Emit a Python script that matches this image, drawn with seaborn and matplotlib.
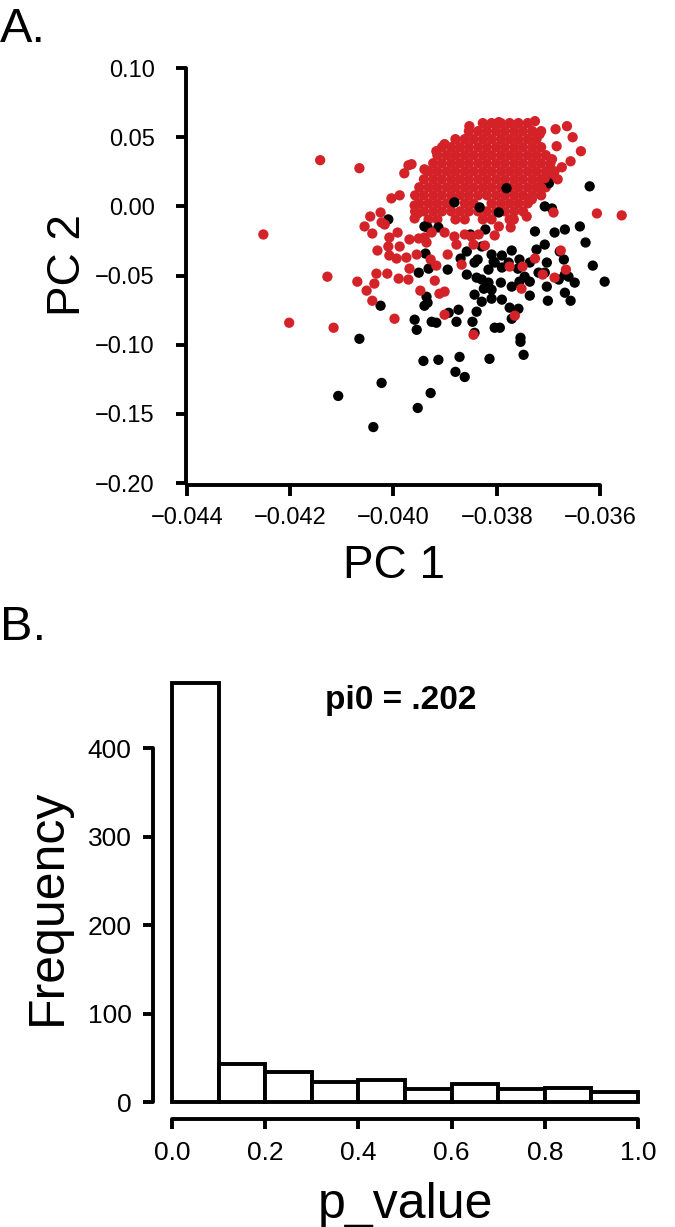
import matplotlib
matplotlib.use("Agg")
import matplotlib.pyplot as plt
import matplotlib.ticker as mticker
import seaborn as sns
import pandas as pd

# ---------------- data ----------------
# Panel A: PCA scores.
# Dense red core, grouped by PC2 value -> list of PC1 values
red_core_rows = {
    0.0602: [-0.03827, -0.03810, -0.03792, -0.03775, -0.03758, -0.03740],
    0.0544: [-0.03854, -0.03836, -0.03819, -0.03801, -0.03784, -0.03766, -0.03749, -0.03731, -0.03714],
    0.0486: [-0.03880, -0.03862, -0.03845, -0.03827, -0.03810, -0.03792, -0.03775, -0.03758, -0.03740, -0.03723],
    0.0428: [-0.03906, -0.03888, -0.03871, -0.03854, -0.03836, -0.03819, -0.03801, -0.03784, -0.03766, -0.03749,
             -0.03731, -0.03714],
    0.0370: [-0.03915, -0.03897, -0.03880, -0.03862, -0.03845, -0.03827, -0.03810, -0.03792, -0.03775, -0.03758,
             -0.03740, -0.03723, -0.03705],
    0.0312: [-0.03923, -0.03906, -0.03888, -0.03871, -0.03854, -0.03836, -0.03819, -0.03801, -0.03784, -0.03766,
             -0.03749, -0.03731, -0.03714, -0.03696],
    0.0254: [-0.03932, -0.03915, -0.03897, -0.03880, -0.03862, -0.03845, -0.03827, -0.03810, -0.03792, -0.03775,
             -0.03758, -0.03740, -0.03723, -0.03705, -0.03688],
    0.0196: [-0.03941, -0.03923, -0.03906, -0.03888, -0.03871, -0.03854, -0.03836, -0.03819, -0.03801, -0.03784,
             -0.03766, -0.03749, -0.03731, -0.03714, -0.03696],
    0.0138: [-0.03950, -0.03932, -0.03915, -0.03897, -0.03880, -0.03862, -0.03845, -0.03827, -0.03810, -0.03792,
             -0.03775, -0.03758, -0.03740, -0.03723, -0.03705],
    0.0080: [-0.03958, -0.03941, -0.03923, -0.03906, -0.03888, -0.03871, -0.03854, -0.03836, -0.03819, -0.03801,
             -0.03784, -0.03766, -0.03749, -0.03731, -0.03714],
    0.0022: [-0.03950, -0.03932, -0.03915, -0.03897, -0.03862, -0.03845, -0.03810, -0.03792, -0.03775, -0.03758,
             -0.03740],
    -0.0036: [-0.03958, -0.03941, -0.03923, -0.03906, -0.03888, -0.03871, -0.03854, -0.03836, -0.03819, -0.03801,
              -0.03784, -0.03766, -0.03749],
    -0.0094: [-0.03932, -0.03915, -0.03880, -0.03862, -0.03827, -0.03810, -0.03775],
}

black_pts = [
    (-0.04066, -0.0957), (-0.04023, -0.1276), (-0.04107, -0.1370), (-0.04039, -0.1595), (-0.03953, -0.1457),
    (-0.03928, -0.1349), (-0.03942, -0.1117), (-0.03913, -0.1109), (-0.03872, -0.1088), (-0.03814, -0.1102),
    (-0.03880, -0.1196), (-0.03862, -0.1233), (-0.03754, -0.0979), (-0.03748, -0.1073), (-0.04010, -0.0094),
    (-0.04025, -0.0718), (-0.03959, -0.0819), (-0.03955, -0.0892), (-0.03926, -0.0834), (-0.03917, -0.0841),
    (-0.03940, -0.0718), (-0.03936, -0.0653), (-0.03951, -0.0479), (-0.03932, -0.0450), (-0.03895, -0.0457),
    (-0.03938, -0.0341), (-0.03913, -0.0152), (-0.03934, -0.0152), (-0.03882, 0.0029), (-0.03833, -0.0007),
    (-0.03796, -0.0044), (-0.03781, 0.0131), (-0.03699, 0.0167), (-0.03620, 0.0145), (-0.03707, 0.0000),
    (-0.03693, -0.0015), (-0.03726, -0.0181), (-0.03688, -0.0189), (-0.03668, -0.0167), (-0.03628, -0.0261),
    (-0.03639, -0.0145), (-0.03723, -0.0312), (-0.03707, -0.0276), (-0.03678, -0.0326), (-0.03670, -0.0384),
    (-0.03703, -0.0406), (-0.03614, -0.0428), (-0.03591, -0.0544), (-0.03649, -0.0551), (-0.03668, -0.0624),
    (-0.03657, -0.0682), (-0.03701, -0.0682), (-0.03703, -0.0580), (-0.03736, -0.0645), (-0.03719, -0.0479),
    (-0.03707, -0.0479), (-0.03680, -0.0529), (-0.03668, -0.0493), (-0.03756, -0.0384), (-0.03771, -0.0319),
    (-0.03790, -0.0355), (-0.03810, -0.0348), (-0.03829, -0.0290), (-0.03858, -0.0326), (-0.03870, -0.0377),
    (-0.03837, -0.0384), (-0.03804, -0.0406), (-0.03790, -0.0442), (-0.03759, -0.0450), (-0.03746, -0.0508),
    (-0.03756, -0.0544), (-0.03736, -0.0544), (-0.03771, -0.0580), (-0.03792, -0.0551), (-0.03810, -0.0602),
    (-0.03825, -0.0595), (-0.03843, -0.0638), (-0.03829, -0.0689), (-0.03810, -0.0667), (-0.03790, -0.0674),
    (-0.03775, -0.0732), (-0.03758, -0.0740), (-0.03771, -0.0812), (-0.03839, -0.0761), (-0.03847, -0.0834),
    (-0.03874, -0.0747), (-0.03878, -0.0834), (-0.03804, -0.0877), (-0.03794, -0.0877), (-0.03843, -0.0914),
    (-0.03754, -0.0950), (-0.03829, -0.0529), (-0.03816, -0.0551), (-0.03777, -0.0406), (-0.03816, -0.0457),
    (-0.03822, -0.0167), (-0.03851, -0.0203), (-0.03893, -0.0769), (-0.03934, -0.0696), (-0.03858, -0.0493),
    (-0.03839, -0.0515), (-0.03843, -0.0406), (-0.03806, -0.0399), (-0.03736, -0.0406), (-0.03661, -0.0508),
    (-0.03940, -0.0145),
]

red_outer = [
    (-0.04252, -0.0203), (-0.04142, 0.0334), (-0.04066, 0.0276), (-0.04128, -0.0508), (-0.04202, -0.0841),
    (-0.04116, -0.0877), (-0.03998, -0.0812), (-0.03901, -0.0783), (-0.03845, -0.0928), (-0.03765, -0.0790),
    (-0.03606, -0.0051), (-0.03558, -0.0065), (-0.03971, 0.0297), (-0.03979, 0.0239), (-0.03988, 0.0080),
    (-0.04004, 0.0058), (-0.04025, -0.0044), (-0.04045, -0.0073), (-0.04017, -0.0131), (-0.04056, -0.0145),
    (-0.04041, -0.0196), (-0.04008, -0.0225), (-0.03992, -0.0189), (-0.03988, -0.0290), (-0.03969, -0.0239),
    (-0.04031, -0.0319), (-0.04008, -0.0355), (-0.03994, -0.0377), (-0.03975, -0.0370), (-0.03969, -0.0450),
    (-0.04033, -0.0486), (-0.04012, -0.0486), (-0.03990, -0.0522), (-0.03971, -0.0529), (-0.04070, -0.0544),
    (-0.04037, -0.0558), (-0.04052, -0.0609), (-0.04041, -0.0682), (-0.03959, 0.0007), (-0.03953, -0.0051),
    (-0.03959, -0.0087), (-0.03951, -0.0232), (-0.03955, -0.0348), (-0.03940, -0.0225), (-0.03926, -0.0189),
    (-0.03936, -0.0261), (-0.03928, -0.0384), (-0.03917, -0.0428), (-0.03895, -0.0348), (-0.03911, -0.0631),
    (-0.03920, -0.0537), (-0.03948, -0.0609), (-0.03853, 0.0580), (-0.03796, 0.0609), (-0.03726, 0.0616),
    (-0.03686, 0.0558), (-0.03664, 0.0580), (-0.03653, 0.0500), (-0.03637, 0.0399), (-0.03657, 0.0326),
    (-0.03684, 0.0435), (-0.03693, 0.0341), (-0.03717, 0.0522), (-0.03699, 0.0261), (-0.03674, 0.0283),
    (-0.03682, 0.0196), (-0.03707, 0.0203), (-0.03713, 0.0131), (-0.03732, 0.0051), (-0.03690, -0.0044),
    (-0.03742, -0.0073), (-0.03767, -0.0094), (-0.03773, -0.0152), (-0.03796, -0.0145), (-0.03804, -0.0210),
    (-0.03823, -0.0283), (-0.03849, -0.0218), (-0.03878, -0.0276), (-0.03726, -0.0377), (-0.03750, -0.0435),
    (-0.03775, -0.0435), (-0.03676, -0.0319), (-0.03666, -0.0457), (-0.03688, -0.0515), (-0.03711, -0.0493),
    (-0.03752, -0.0595), (-0.03901, -0.0616), (-0.04023, -0.0116), (-0.04010, -0.0290), (-0.03868, -0.0421),
    (-0.03882, -0.0218), (-0.03862, -0.0203), (-0.03835, -0.0203), (-0.03901, -0.0189), (-0.03845, -0.0276),
    (-0.03901, 0.0450), (-0.03917, 0.0399), (-0.03940, 0.0268), (-0.03965, 0.0305),
]

pc1_ticks = [-0.044, -0.042, -0.040, -0.038, -0.036]
pc2_ticks = [0.10, 0.05, 0.00, -0.05, -0.10, -0.15, -0.20]

# Panel B: histogram of p-values (counts per 0.1-wide bin)
p_bin_edges = [0.0, 0.1, 0.2, 0.3, 0.4, 0.5, 0.6, 0.7, 0.8, 0.9, 1.0]
p_bin_centers = [0.05, 0.15, 0.25, 0.35, 0.45, 0.55, 0.65, 0.75, 0.85, 0.95]
p_counts = [473, 43, 34, 23, 25, 15, 20, 15, 16, 11]
freq_ticks = [0, 100, 200, 300, 400]
p_ticks = [0.0, 0.2, 0.4, 0.6, 0.8, 1.0]
pi0_label = "pi0 = .202"

# ---------------- style ----------------
sns.set_style("ticks", {"axes.edgecolor": "black", "xtick.color": "black", "ytick.color": "black",
                        "text.color": "black", "axes.labelcolor": "black"})
plt.rcParams["font.family"] = ["Liberation Sans", "DejaVu Sans"]
plt.rcParams["axes.unicode_minus"] = True

RED = "#D42229"
BLACK = "#000000"
LW = 2.8

fig = plt.figure(figsize=(6.75, 12.27), dpi=100)

# ---------------- panel A ----------------
core = [(x, y, "red") for y, xs in red_core_rows.items() for x in xs]
rows = core + [(x, y, "black") for x, y in black_pts] + [(x, y, "red") for x, y in red_outer]
df = pd.DataFrame(rows, columns=["PC1", "PC2", "group"])

ax1 = fig.add_axes([0.2693, 0.6029, 0.6655, 0.3439])
sns.scatterplot(data=df, x="PC1", y="PC2", hue="group",
                palette={"red": RED, "black": BLACK},
                s=55, linewidth=0, legend=False, ax=ax1, zorder=3)
ax1.set_xlim(-0.0441, -0.0354)
ax1.set_ylim(-0.203, 0.102)
ax1.set_xticks(pc1_ticks)
ax1.set_yticks(pc2_ticks)
ax1.xaxis.set_major_formatter(mticker.FuncFormatter(lambda v, p: f"{v:.3f}".replace("-", "\u2212")))
ax1.yaxis.set_major_formatter(mticker.FuncFormatter(lambda v, p: f"{v:.2f}".replace("-", "\u2212")))
for s in ("top", "right"):
    ax1.spines[s].set_visible(False)
ax1.spines["left"].set_position(("data", -0.04402))
ax1.spines["bottom"].set_position(("data", -0.20145))
ax1.spines["left"].set_bounds(-0.20, 0.10)
ax1.spines["bottom"].set_bounds(-0.044, -0.036)
for s in ("left", "bottom"):
    ax1.spines[s].set_linewidth(LW)
    ax1.spines[s].set_capstyle("round")
ax1.tick_params(axis="y", direction="out", length=7.5, width=LW, pad=15, labelsize=17, color="black")
ax1.tick_params(axis="x", direction="out", length=8, width=LW, pad=8, labelsize=17, color="black")
ax1.set_xlabel("PC 1", fontsize=33)
ax1.set_ylabel("PC 2", fontsize=33)
ax1.xaxis.set_label_coords(0.4724, -0.1866)
ax1.xaxis.label.set_verticalalignment("center")
ax1.yaxis.set_label_coords(-0.2533, 0.5265)
ax1.yaxis.label.set_verticalalignment("center")
ax1.patch.set_alpha(0)

# ---------------- panel B ----------------
ax2 = fig.add_axes([0.2203, 0.08598, 0.7387, 0.3621])
sns.histplot(x=p_bin_centers, weights=p_counts, bins=p_bin_edges,
             color="white", edgecolor="black", linewidth=LW, alpha=1,
             ax=ax2)
ax2.set_xlim(-0.05, 1.02)
ax2.set_ylim(-22, 480)
ax2.set_xticks(p_ticks)
ax2.set_yticks(freq_ticks)
ax2.xaxis.set_major_formatter(mticker.FormatStrFormatter("%.1f"))
for s in ("top", "right"):
    ax2.spines[s].set_visible(False)
ax2.spines["left"].set_position(("data", -0.0408))
ax2.spines["bottom"].set_position(("data", -19.2))
ax2.spines["left"].set_bounds(0, 400)
ax2.spines["bottom"].set_bounds(0, 1)
for s in ("left", "bottom"):
    ax2.spines[s].set_linewidth(LW)
    ax2.spines[s].set_capstyle("round")
ax2.tick_params(axis="both", direction="out", length=7.5, width=LW, pad=8, labelsize=19, color="black")
ax2.set_xlabel("p_value", fontsize=36)
ax2.set_ylabel("Frequency", fontsize=36)
ax2.xaxis.set_label_coords(0.514, -0.188)
ax2.xaxis.label.set_verticalalignment("center")
ax2.yaxis.set_label_coords(-0.202, 0.4828)
ax2.yaxis.label.set_verticalalignment("center")
ax2.text(0.49, 454, pi0_label, ha="center", va="center", fontsize=24, fontweight="bold")
ax2.patch.set_alpha(0)

# ---------------- panel letters ----------------
fig.text(0.0, 1 - 42 / 1227, "A.", fontsize=35, ha="left", va="baseline")
fig.text(0.0, 1 - 640 / 1227, "B.", fontsize=35, ha="left", va="baseline")

fig.savefig("out.png", dpi=100, facecolor="white")
